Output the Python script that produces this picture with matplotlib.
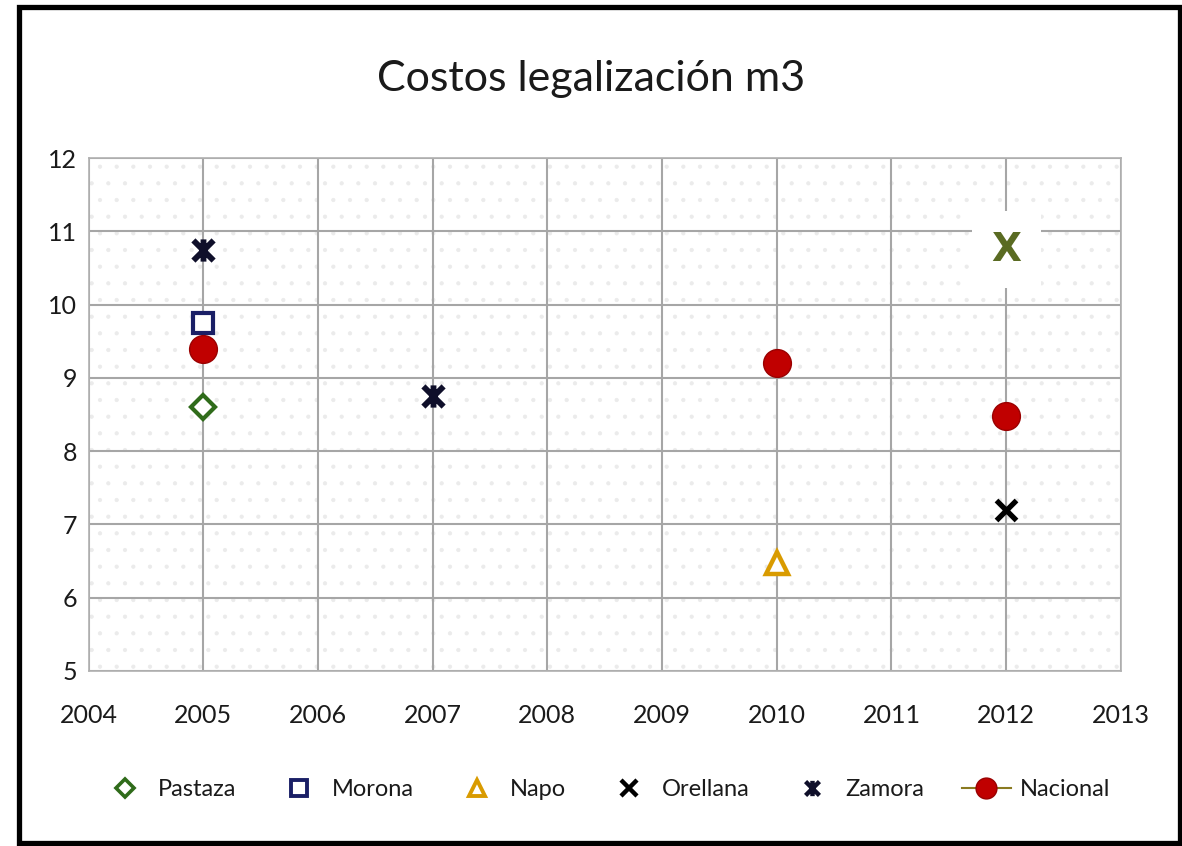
import matplotlib

matplotlib.use("Agg")
import matplotlib.pyplot as plt
from matplotlib.lines import Line2D
from matplotlib.patches import Rectangle
from matplotlib.path import Path

# data
pastaza_x = [2005]
pastaza_y = [8.6]
morona_x = [2005]
morona_y = [9.75]
napo_x = [2010]
napo_y = [6.47]
orellana_x = [2012]
orellana_y = [7.2]
zamora_x = [2005, 2007]
zamora_y = [10.75, 8.75]
nacional_x = [2005, 2010, 2012]
nacional_y = [9.4, 9.2, 8.48]
stray_label = ("X", 2012, 10.75)

year_ticks = list(range(2004, 2014))
value_ticks = list(range(5, 13))

FONT = ["Lato", "DejaVu Sans"]

# asterisk marker: an X with a vertical bar through it
ZAMORA_MARK = Path(
    [(-1, -1), (1, 1), (-1, 1), (1, -1), (0, -1.1), (0, 1.1)],
    [Path.MOVETO, Path.LINETO, Path.MOVETO, Path.LINETO, Path.MOVETO, Path.LINETO],
)

plt.rcParams["hatch.color"] = "#ebebeb"
plt.rcParams["hatch.linewidth"] = 0.6

fig = plt.figure(figsize=(11.82, 8.46), dpi=100)
ax = fig.add_axes([0.0749, 0.2069, 0.8734, 0.6063])

ax.set_xlim(year_ticks[0], year_ticks[-1])
ax.set_ylim(value_ticks[0], value_ticks[-1])
ax.set_xticks(year_ticks)
ax.set_yticks(value_ticks)
ax.set_xticklabels([str(t) for t in year_ticks], family=FONT, fontsize=18)
ax.set_yticklabels([str(t) for t in value_ticks], family=FONT, fontsize=18)
ax.tick_params(length=0, pad=8, colors="#1a1a1a")
ax.tick_params(axis="x", pad=24)
ax.grid(True, color="#a6a6a6", lw=1.5)
ax.set_axisbelow(True)
ax.patch.set_hatch(".")
ax.patch.set_edgecolor("#ebebeb")
for s in ax.spines.values():
    s.set_color("#b0b0b0")
    s.set_linewidth(1.2)

ax.plot(pastaza_x, pastaza_y, ls="none", marker="D", ms=12, mfc="white",
        mec="#2f6b1a", mew=3, clip_on=False)
ax.plot(morona_x, morona_y, ls="none", marker="s", ms=15, mfc="white",
        mec="#1a1f66", mew=3, clip_on=False)
ax.plot(napo_x, napo_y, ls="none", marker="^", ms=16, mfc="white",
        mec="#d99b00", mew=3.2, clip_on=False)
ax.plot(orellana_x, orellana_y, ls="none", marker="x", ms=15, mec="black",
        mew=3.8, clip_on=False)
ax.plot(zamora_x, zamora_y, ls="none", marker=ZAMORA_MARK, ms=16,
        mec="#0f0f2a", mew=4.2, clip_on=False)
ax.plot(nacional_x, nacional_y, ls="none", marker="o", ms=20, mfc="#c00000",
        mec="#9a0000", mew=1, clip_on=False)

txt, tx, ty = stray_label
ax.text(tx, ty, txt, ha="center", va="center", fontsize=28, fontweight="bold",
        color="#5a6b22", family=["DejaVu Sans"],
        bbox=dict(boxstyle="square,pad=0.5", fc="white", ec="none"))

fig.text(0.5, 0.907, "Costos legalización m3", ha="center", va="center",
         fontsize=31, color="#1a1a1a", family=FONT)

handles = [
    Line2D([0], [0], ls="none", marker="D", ms=9, mfc="white", mec="#2f6b1a", mew=2.6),
    Line2D([0], [0], ls="none", marker="s", ms=11, mfc="white", mec="#1a1f66", mew=2.8),
    Line2D([0], [0], ls="none", marker="^", ms=12, mfc="white", mec="#d99b00", mew=2.8),
    Line2D([0], [0], ls="none", marker="x", ms=11, mec="black", mew=3.2),
    Line2D([0], [0], ls="none", marker=ZAMORA_MARK, ms=11, mec="#0f0f2a", mew=3.2),
    Line2D([0], [0], color="#8a7a20", lw=1.5, marker="o", ms=15, mfc="#c00000", mec="#9a0000"),
]
labels = ["Pastaza", "Morona", "Napo", "Orellana", "Zamora", "Nacional"]
fig.legend(handles, labels, loc="center", bbox_to_anchor=(0.512, 0.067), ncol=6,
           frameon=False, prop={"family": FONT, "size": 17}, handlelength=2.1,
           columnspacing=1.6, handletextpad=0.35, labelcolor="#1a1a1a")

# heavy black frame around the whole chart
fig.patches.append(Rectangle((0.0157, 0.0035), 0.9823, 0.9888, transform=fig.transFigure,
                             fill=False, ec="black", lw=3.8))

fig.savefig("out.png", dpi=100)
